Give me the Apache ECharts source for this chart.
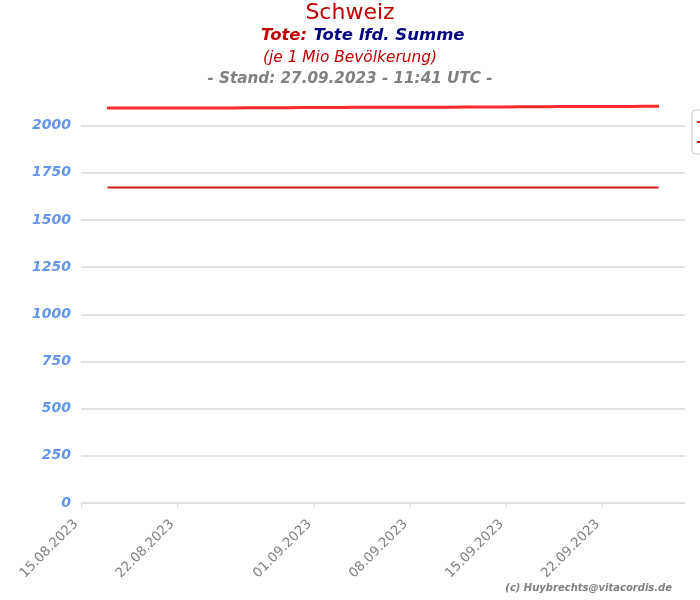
<!DOCTYPE html>
<html>
<head>
<meta charset="utf-8">
<script src="https://cdn.jsdelivr.net/npm/echarts@6/dist/echarts.min.js"></script>
<style>html,body{margin:0;padding:0;background:#fff}#c{width:700px;height:600px}</style>
</head>
<body>
<div id="c"></div>
<script>
var dates = ['2023-08-17','2023-08-18','2023-08-19','2023-08-20','2023-08-21','2023-08-22','2023-08-23','2023-08-24','2023-08-25','2023-08-26',
'2023-08-27','2023-08-28','2023-08-29','2023-08-30','2023-08-31','2023-09-01','2023-09-02','2023-09-03','2023-09-04','2023-09-05',
'2023-09-06','2023-09-07','2023-09-08','2023-09-09','2023-09-10','2023-09-11','2023-09-12','2023-09-13','2023-09-14','2023-09-15',
'2023-09-16','2023-09-17','2023-09-18','2023-09-19','2023-09-20','2023-09-21','2023-09-22','2023-09-23','2023-09-24','2023-09-25','2023-09-26'];
var toteSumme = [2093,2093,2093,2093,2093,2094,2094,2094,2094,2094,
2095,2095,2095,2095,2096,2096,2096,2096,2097,2097,
2097,2097,2098,2098,2098,2098,2099,2099,2099,2099,
2100,2100,2100,2101,2101,2101,2102,2102,2102,2103,2103];
var toteVergleich = [1672,1672,1672,1672,1672,1672,1672,1672,1672,1672,
1672,1672,1672,1672,1672,1672,1672,1672,1672,1672,
1672,1672,1672,1672,1672,1672,1672,1672,1672,1672,
1672,1672,1672,1672,1672,1672,1672,1672,1672,1672,1672];
var xTicks = ['2023-08-15','2023-08-22','2023-09-01','2023-09-08','2023-09-15','2023-09-22'];
var xMin = '2023-08-15', xMax = '2023-09-28';
var seriesNames = ['Tote lfd. Summe', 'Tote lfd. Summe (Vergleich)'];

function ts(s){var p=s.split('-');return Date.UTC(+p[0],+p[1]-1,+p[2]);}
function pad(n){return (n<10?'0':'')+n;}
var chart = echarts.init(document.getElementById('c'), null, {renderer:'canvas'});
var font = 'DejaVu Sans';
chart.setOption({
  animation:false,
  textStyle:{fontFamily:font},
  title:[
    {text:'Schweiz', left:'center', top:-3, textStyle:{fontFamily:font,fontSize:22,fontWeight:'normal',color:'#c00000'}},
    {text:'{a|Tote:} {b|Tote lfd. Summe}', left:256, top:22, textStyle:{rich:{
      a:{fontFamily:font,fontSize:16.5,fontWeight:'bold',fontStyle:'italic',color:'#c00000'},
      b:{fontFamily:font,fontSize:16.5,fontWeight:'bold',fontStyle:'italic',color:'#000080'}}}},
    {text:'(je 1 Mio Bevölkerung)', left:'center', top:45, textStyle:{fontFamily:font,fontSize:15.4,fontWeight:'normal',fontStyle:'italic',color:'#c00000'}},
    {text:'- Stand: 27.09.2023 - 11:41 UTC -', left:'center', top:67, textStyle:{fontFamily:font,fontSize:15.2,fontWeight:'bold',fontStyle:'italic',color:'#808080'}}
  ],
  legend:{
    orient:'vertical', left:692, top:110, padding:[6,5,6,5], itemGap:8,
    borderColor:'#cccccc', borderWidth:1, borderRadius:4,
    itemWidth:20, itemHeight:12,
    textStyle:{fontFamily:font,fontSize:12,color:'#333'},
    data:seriesNames
  },
  grid:{left:81, right:15, top:103, bottom:97},
  xAxis:{
    type:'value', min:ts(xMin), max:ts(xMax),
    axisLine:{lineStyle:{color:'#dddddd',width:1}},
    axisTick:{show:true, customValues:xTicks.map(ts), length:5, lineStyle:{color:'#dddddd'}},
    axisLabel:{customValues:xTicks.map(ts), rotate:45, color:'#808080', fontFamily:font, fontSize:13.3, margin:14, padding:[0,7,0,0],
      formatter:function(v){var d=new Date(v);return pad(d.getUTCDate())+'.'+pad(d.getUTCMonth()+1)+'.'+d.getUTCFullYear();}},
    splitLine:{show:false}
  },
  yAxis:{
    type:'value', min:0, max:2120, interval:250,
    axisLine:{show:false}, axisTick:{show:false},
    axisLabel:{color:'#6495ed', fontFamily:font, fontSize:14, fontWeight:'bold', fontStyle:'italic', margin:10,
      showMaxLabel:false, formatter:function(v){return String(v);}},
    splitLine:{showMaxLine:false, lineStyle:{color:'#d9d9d9', width:1.5}}
  },
  series:[
    {name:seriesNames[0], type:'line', data:dates.map(function(d,i){return [ts(d),toteSumme[i]];}),
      showSymbol:false, symbol:'none', lineStyle:{color:'#ff2a2a',width:3,cap:'square'}, itemStyle:{color:'#ff2a2a'}},
    {name:seriesNames[1], type:'line', data:dates.map(function(d,i){return [ts(d),toteVergleich[i]];}),
      showSymbol:false, symbol:'none', lineStyle:{color:'#cc1a1a',width:2,cap:'square'}, itemStyle:{color:'#cc1a1a'}}
  ],
  graphic:[
    {type:'text', right:28, top:583, style:{text:'(c) Huybrechts@vitacordis.de', fontFamily:font, fontSize:10, fontWeight:'bold', fontStyle:'italic', fill:'#808080'}}
  ]
});
</script>
</body>
</html>
